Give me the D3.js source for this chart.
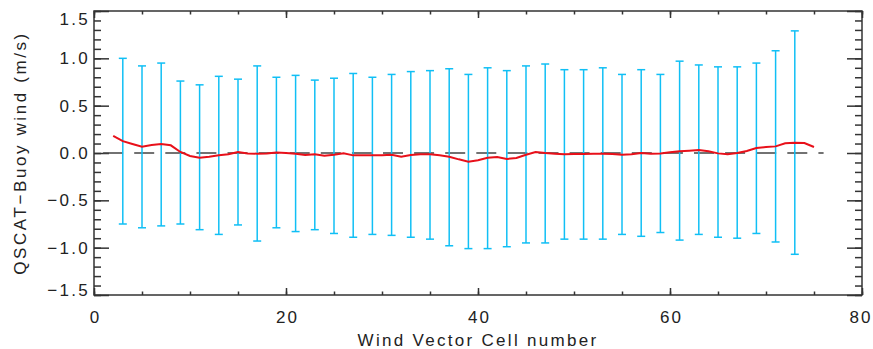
<!DOCTYPE html>
<html>
<head>
<meta charset="utf-8">
<script src="https://cdn.jsdelivr.net/npm/d3@7"></script>
<style>
  body { margin: 0; background: #fff; }
  text { font-family: "Liberation Sans", Arial, sans-serif; fill: #222; }
</style>
</head>
<body>
<div id="chart"></div>
<script>
// error bar positions (wind vector cell)
const barCells = [3,5,7,9,11,13,15,17,19,21,23,25,27,29,31,33,35,37,39,
                  41,43,45,47,49,51,53,55,57,59,61,63,65,67,69,71,73];
// top of each bar (mean + std)
const barTop = [1.00,0.92,0.95,0.76,0.72,0.81,0.78,0.92,0.80,0.82,0.77,0.79,0.84,0.80,0.83,0.86,0.87,0.89,0.83,
                0.90,0.87,0.92,0.94,0.88,0.88,0.90,0.83,0.88,0.83,0.97,0.93,0.91,0.91,0.95,1.08,1.29];
// bottom of each bar (mean - std)
const barBottom = [-0.75,-0.79,-0.77,-0.75,-0.81,-0.86,-0.76,-0.93,-0.79,-0.83,-0.81,-0.85,-0.89,-0.86,-0.87,-0.89,-0.91,-0.98,-1.01,
                   -1.01,-0.99,-0.95,-0.95,-0.91,-0.91,-0.91,-0.86,-0.88,-0.84,-0.92,-0.86,-0.89,-0.90,-0.85,-0.94,-1.07];

// mean bias for cells 2..75
const meanCells = d3.range(2, 76);
const meanBias = [0.18,0.125,0.095,0.067,0.085,0.095,0.081,0.011,-0.032,-0.049,-0.039,-0.025,-0.014,0.011,
                  -0.004,-0.007,-0.004,0.004,0.0,-0.007,-0.021,-0.014,-0.028,-0.018,-0.004,-0.025,-0.025,-0.025,
                  -0.025,-0.018,-0.039,-0.021,-0.014,-0.014,-0.025,-0.039,-0.067,-0.092,-0.077,-0.051,-0.042,-0.063,
                  -0.053,-0.018,0.011,0.0,-0.007,-0.014,-0.011,-0.011,-0.007,-0.007,-0.011,-0.018,-0.014,0.0,
                  -0.007,-0.004,0.007,0.018,0.025,0.032,0.018,-0.004,-0.014,0.0,0.021,0.053,0.063,0.07,
                  0.102,0.109,0.106,0.063];

const xMajor = [0,20,40,60,80];
const xMinor = d3.range(0, 81, 5);
const yMajor = [-1.5,-1.0,-0.5,0.0,0.5,1.0,1.5];
const yMinor = d3.range(-15, 16).map(d => d / 10);

const width = 873, height = 349;
const plotLeft = 94, plotRight = 862, plotTop = 11, plotBottom = 295;

const svg = d3.select('#chart').append('svg')
  .attr('width', width)
  .attr('height', height);

const x = d3.scaleLinear().domain([0, 80]).range([plotLeft, plotRight]);
const y = d3.scaleLinear().domain([-1.5, 1.5]).range([plotBottom, plotTop]);

const axisColor = '#333';

function styleAxis(g) {
  g.select('.domain').remove();
  g.selectAll('.tick line').attr('stroke', axisColor).attr('stroke-width', 1.5);
}

// minor ticks
svg.append('g').attr('transform', `translate(${plotLeft},0)`)
  .call(d3.axisLeft(y).tickValues(yMinor).tickSize(-7).tickFormat(''))
  .call(styleAxis);
svg.append('g').attr('transform', `translate(${plotRight},0)`)
  .call(d3.axisRight(y).tickValues(yMinor).tickSize(-7).tickFormat(''))
  .call(styleAxis);
svg.append('g').attr('transform', `translate(0,${plotBottom})`)
  .call(d3.axisBottom(x).tickValues(xMinor).tickSize(-3.5).tickFormat(''))
  .call(styleAxis);
svg.append('g').attr('transform', `translate(0,${plotTop})`)
  .call(d3.axisTop(x).tickValues(xMinor).tickSize(-3.5).tickFormat(''))
  .call(styleAxis);

// major ticks with labels
const yAxis = svg.append('g').attr('transform', `translate(${plotLeft},0)`)
  .call(d3.axisLeft(y).tickValues(yMajor).tickSize(-15).tickPadding(4).tickFormat(d3.format('.1f')))
  .call(styleAxis);
yAxis.selectAll('text')
  .attr('font-size', 17)
  .style('letter-spacing', '2.3px')
  .attr('y', d => d === 1.5 ? 8 : (d === -1.5 ? -5 : 0));

svg.append('g').attr('transform', `translate(${plotRight},0)`)
  .call(d3.axisRight(y).tickValues(yMajor).tickSize(-15).tickFormat(''))
  .call(styleAxis);

const xAxis = svg.append('g').attr('transform', `translate(0,${plotBottom})`)
  .call(d3.axisBottom(x).tickValues(xMajor).tickSize(-7).tickPadding(16).tickFormat(d3.format('d')))
  .call(styleAxis);
xAxis.selectAll('text')
  .attr('font-size', 17)
  .style('letter-spacing', '2px')
  .attr('dx', d => d === 80 ? '-1.5px' : '1px');

svg.append('g').attr('transform', `translate(0,${plotTop})`)
  .call(d3.axisTop(x).tickValues(xMajor).tickSize(-7).tickFormat(''))
  .call(styleAxis);

// frame
svg.append('rect')
  .attr('x', plotLeft).attr('y', plotTop)
  .attr('width', plotRight - plotLeft).attr('height', plotBottom - plotTop)
  .attr('fill', 'none')
  .attr('stroke', axisColor)
  .attr('stroke-width', 1.5);

// zero reference line
svg.append('line')
  .attr('x1', x(0)).attr('x2', x(76))
  .attr('y1', y(0)).attr('y2', y(0))
  .attr('stroke', '#444')
  .attr('stroke-width', 1.5)
  .attr('stroke-dasharray', '20 11.1')
  .attr('stroke-dashoffset', 22);

// error bars
const bars = svg.append('g')
  .selectAll('g')
  .data(barCells.map((c, i) => ({ c, hi: barTop[i], lo: barBottom[i] })))
  .enter().append('g')
  .attr('stroke', '#10bff5')
  .attr('stroke-width', 1.5);

bars.append('line')
  .attr('x1', d => x(d.c)).attr('x2', d => x(d.c))
  .attr('y1', d => y(d.hi)).attr('y2', d => y(d.lo));
bars.append('line')
  .attr('x1', d => x(d.c) - 4).attr('x2', d => x(d.c) + 4)
  .attr('y1', d => y(d.hi)).attr('y2', d => y(d.hi));
bars.append('line')
  .attr('x1', d => x(d.c) - 4).attr('x2', d => x(d.c) + 4)
  .attr('y1', d => y(d.lo)).attr('y2', d => y(d.lo));

// mean bias line
const line = d3.line()
  .x((d, i) => x(meanCells[i]))
  .y(d => y(d));

svg.append('path')
  .datum(meanBias)
  .attr('d', line)
  .attr('fill', 'none')
  .attr('stroke', '#e8101a')
  .attr('stroke-width', 2);

// axis titles
svg.append('text')
  .attr('x', (plotLeft + plotRight) / 2)
  .attr('y', 346)
  .attr('text-anchor', 'middle')
  .attr('font-size', 17)
  .style('letter-spacing', '2.3px')
  .text('Wind Vector Cell number');

svg.append('text')
  .attr('transform', `translate(26,${(plotTop + plotBottom) / 2}) rotate(-90)`)
  .attr('text-anchor', 'middle')
  .attr('font-size', 17)
  .style('letter-spacing', '2.6px')
  .text('QSCAT\u2212Buoy wind (m/s)');
</script>
</body>
</html>
